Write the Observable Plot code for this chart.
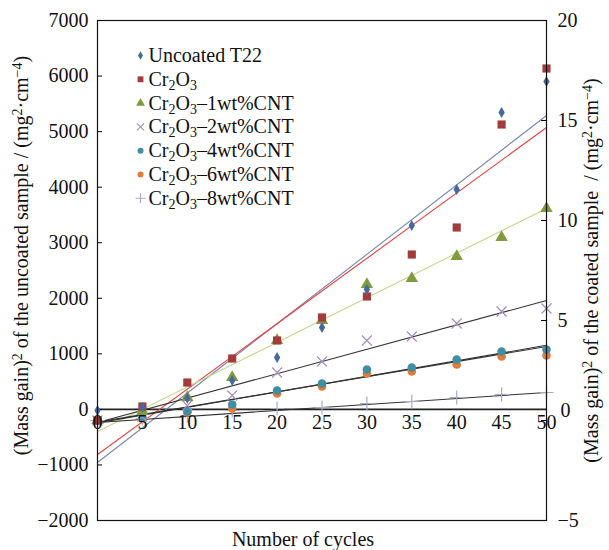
<!DOCTYPE html>
<html>
<head>
<meta charset="utf-8">
<script src="https://cdn.jsdelivr.net/npm/d3@7"></script>
<script src="https://cdn.jsdelivr.net/npm/@observablehq/plot@0.6"></script>
<style>
  html, body { margin: 0; padding: 0; background: #fff; }
  #chart svg { display: block; }
  #chart svg text { font-family: "Liberation Serif", "Times New Roman", serif; font-variant-numeric: normal; }
</style>
</head>
<body>
<div id="chart"></div>
<script>
// ---------- data ----------
const cycles = [0, 5, 10, 15, 20, 25, 30, 35, 40, 45, 50];
// left axis (uncoated sample), mg^2 cm^-4
const uncoatedT22 = [-20, 40, 200, 520, 934, 1474, 2158, 3310, 3958, 5344, 5902];
// right axis (coated samples), mg^2 cm^-4
const cr2o3      = [0, 0.7, 1.9, 3.1, 4.0, 5.15, 6.2, 8.3, 9.65, 14.8, 17.6];
const cnt1       = [0, 0.46, 1.15, 2.15, 4.0, 5.0, 6.8, 7.1, 8.2, 9.15, 10.6];
const cnt2       = [0, 0.2, 0.75, 1.25, 2.4, 2.95, 4.0, 4.2, 4.85, 5.45, 5.6];
const cnt4       = [0, 0.15, 0.45, 0.8, 1.5, 1.85, 2.55, 2.65, 3.05, 3.45, 3.55];
const cnt6       = [0, 0.1, 0.4, 0.6, 1.35, 1.7, 2.35, 2.45, 2.8, 3.2, 3.25];
const cnt8       = [0, 0.1, 0.25, 0.5, 0.6, 0.65, 0.85, 0.95, 1.15, 1.3, 1.4];
// linear fit lines: value at cycle 0 and at cycle 50
const fitCycles  = [0, 50];
const fitT22     = [-956, 5290];
const fitCr2o3   = [-1.7, 14.65];
const fitCnt1    = [-0.55, 10.6];
const fitCnt2    = [-0.1, 6.0];
const fitCnt4    = [-0.12, 3.76];
const fitCnt6    = [-0.08, 3.7];
const fitCnt8    = [-0.1, 1.4];
const seriesNames = ["Uncoated T22", "Cr_{2}O_{3}", "Cr_{2}O_{3}–1wt%CNT", "Cr_{2}O_{3}–2wt%CNT",
                     "Cr_{2}O_{3}–4wt%CNT", "Cr_{2}O_{3}–6wt%CNT", "Cr_{2}O_{3}–8wt%CNT"];
const leftTicks  = [-2000, -1000, 0, 1000, 2000, 3000, 4000, 5000, 6000, 7000];
const rightTicks = [-5, 0, 5, 10, 15, 20];
const xTicks     = [0, 5, 10, 15, 20, 25, 30, 35, 40, 45, 50];

// ---------- styles ----------
const seriesValues = [uncoatedT22, cr2o3, cnt1, cnt2, cnt4, cnt6, cnt8];
const seriesFits   = [fitT22, fitCr2o3, fitCnt1, fitCnt2, fitCnt4, fitCnt6, fitCnt8];
const seriesAxis   = ["left", "right", "right", "right", "right", "right", "right"];
const symbols  = ["diamond", "square", "triangle", "times", "circle", "circle", "plus"];
const colors   = ["#46679f", "#a33a3c", "#7f9b3e", "#a48fbb", "#3f8ea4", "#e17b36", "#a9abc9"];
const filled   = [true, true, true, false, true, true, false];
const sizes    = [3.3, 4.6, 4.6, 4.6, 4.3, 4.3, 4.6];
const legSizes = [2.6, 3.3, 3.3, 3.3, 3.0, 3.0, 3.3];
const fitColors = ["#7b86ad", "#e6433f", "#c5d58e", "#333", "#333", "#333", "#333"];

// right-axis value -> left-axis value (both axes span the same frame)
const yLeftMin = -2000, yLeftMax = 7000;
const rMin = rightTicks[0], rMax = rightTicks[rightTicks.length - 1];
const toLeft = r => yLeftMin + (r - rMin) * (yLeftMax - yLeftMin) / (rMax - rMin);
const toRight = v => rMin + (v - yLeftMin) * (rMax - rMin) / (yLeftMax - yLeftMin);
const conv = (i, v) => seriesAxis[i] === "left" ? v : toLeft(v);
const minus = n => (n < 0 ? "−" + Math.abs(n) : String(n));

const W = 609, H = 550;
const mL = 97, mR = 63, mT = 20, mB = 30;
const plotW = W - mL - mR;

const marks = [];
// zero line
marks.push(Plot.ruleY([0], {stroke: "#222", strokeWidth: 1.6}));
// inward ticks
marks.push(Plot.tickY(leftTicks, {y: d => d, insetRight: plotW - 5, stroke: "#000"}));
marks.push(Plot.tickY(rightTicks.map(toLeft), {y: d => d, insetLeft: plotW - 5, stroke: "#000"}));
// fit lines
seriesFits.forEach((f, i) => {
  marks.push(Plot.line(fitCycles.map((c, k) => ({x: c, y: conv(i, f[k])})),
    {x: "x", y: "y", stroke: fitColors[i], strokeWidth: 1.1}));
});
// data points
for (let i = seriesValues.length - 1; i >= 0; i--) {
  const data = cycles.map((c, k) => ({x: c, y: conv(i, seriesValues[i][k])}));
  marks.push(Plot.dot(data, {
    x: "x", y: "y", symbol: symbols[i], r: sizes[i],
    fill: filled[i] ? colors[i] : "none",
    stroke: filled[i] ? "none" : colors[i], strokeWidth: 1.2
  }));
}
// x tick labels sit just under the zero line
marks.push(Plot.text(xTicks, {x: d => d, y: 0, dy: 13, text: d => String(d),
  fontSize: 20, fill: "#111"}));
// legend
seriesNames.forEach((name, i) => {
  const dy = 35 + i * 23.8;
  marks.push(Plot.dot([0], {x: () => 0, y: () => yLeftMax, dx: 43, dy, symbol: symbols[i],
    r: legSizes[i], fill: filled[i] ? colors[i] : "none",
    stroke: filled[i] ? "none" : colors[i], strokeWidth: 1.1}));
  marks.push(Plot.text([name], {x: () => 0, y: () => yLeftMax, dx: 51, dy, text: d => d,
    textAnchor: "start", fontSize: 20, fill: "#111"}));
});
// axis titles
marks.push(Plot.text(["(Mass gain)^{2} of the uncoated sample / (mg^{2}·cm^{−4})"], {
  frameAnchor: "left", dx: -76, dy: -15, rotate: -90, textAnchor: "middle", lineAnchor: "middle",
  text: d => d, fontSize: 20, fill: "#111"}));
marks.push(Plot.text(["(Mass gain)^{2} of the coated sample  / (mg^{2}·cm^{−4})"], {
  frameAnchor: "right", dx: 45, dy: 0, rotate: -90, textAnchor: "middle", lineAnchor: "middle",
  text: d => d, fontSize: 20, fill: "#111"}));
marks.push(Plot.text(["Number of cycles"], {
  frameAnchor: "bottom", dx: -19, dy: 19, textAnchor: "middle", lineAnchor: "middle",
  text: d => d, fontSize: 20, fill: "#111"}));
marks.push(Plot.frame({stroke: "#111", strokeWidth: 1.2}));

const rightNonZero = rightTicks.filter(t => t !== 0);
const chart = Plot.plot({
  width: W, height: H,
  marginLeft: mL, marginRight: mR, marginTop: mT, marginBottom: mB,
  style: {fontSize: "20px", background: "#fff", color: "#111"},
  x: {domain: [0, 50], axis: null},
  y: {domain: [yLeftMin, yLeftMax], axis: null},
  marks: [
    ...marks,
    Plot.axisY({anchor: "left", ticks: leftTicks, tickSize: 0, tickPadding: 9,
      tickFormat: minus, label: null, fontSize: 20}),
    Plot.axisY({anchor: "right", ticks: rightNonZero.map(toLeft), tickSize: 0, tickPadding: 11,
      tickFormat: v => minus(Math.round(toRight(v))), label: null, fontSize: 20}),
    // the right-axis "0" is lifted clear of the "50" cycle label, as in the reference
    Plot.axisY({anchor: "right", ticks: [toLeft(0)], tickSize: 0, tickPadding: 14, dy: -10,
      tickFormat: v => minus(Math.round(toRight(v))), label: null, fontSize: 20})
  ]
});
document.getElementById("chart").appendChild(chart);

// sub/superscript markup: _{..} and ^{..}
d3.select(chart).selectAll("text").each(function () {
  const s = this.textContent;
  if (!/[_^]\{/.test(s)) return;
  const el = d3.select(this);
  this.textContent = "";
  const re = /([_^])\{([^}]*)\}/g;
  let last = 0, m;
  while ((m = re.exec(s))) {
    if (m.index > last) el.append("tspan").text(s.slice(last, m.index));
    el.append("tspan").attr("font-size", "70%")
      .attr("baseline-shift", m[1] === "_" ? "-28%" : "40%").text(m[2]);
    last = re.lastIndex;
  }
  if (last < s.length) el.append("tspan").text(s.slice(last));
});
</script>
</body>
</html>
